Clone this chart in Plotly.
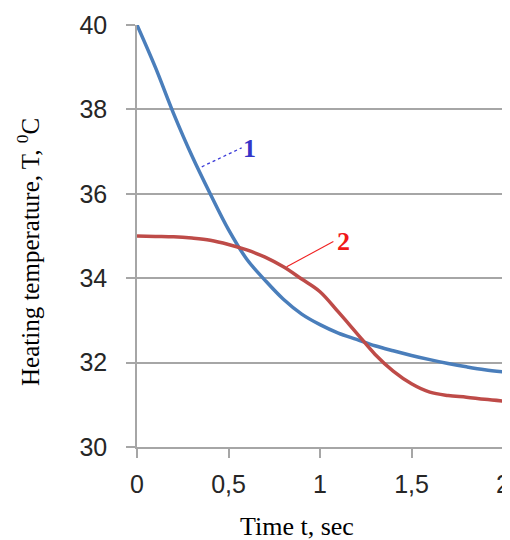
import plotly.graph_objects as go

t = [0, 0.1, 0.2, 0.3, 0.4, 0.5, 0.6, 0.7, 0.8, 0.9, 1.0, 1.1, 1.2, 1.3, 1.4, 1.5, 1.6, 1.7, 1.8, 1.9, 2.0]
curve1 = [40.0, 39.0, 37.9, 36.9, 36.0, 35.15, 34.45, 33.95, 33.5, 33.15, 32.9, 32.7, 32.55, 32.4, 32.28, 32.17, 32.07, 31.98, 31.9, 31.83, 31.78]
curve2 = [35.0, 34.99, 34.98, 34.95, 34.9, 34.8, 34.67, 34.5, 34.27, 33.98, 33.68, 33.2, 32.7, 32.2, 31.8, 31.5, 31.3, 31.22, 31.18, 31.13, 31.09]

x_ticks = [0, 0.5, 1, 1.5, 2]
x_tick_labels = ["0", "0,5", "1", "1,5", "2"]
y_ticks = [30, 32, 34, 36, 38, 40]

# curve labels: leader line (start on curve, end near label) and label position
label1_line_x, label1_line_y = [0.354, 0.572], [36.64, 37.09]
label1_pos = (0.617, 37.07)
label2_line_x, label2_line_y = [0.818, 1.073], [34.27, 34.87]
label2_pos = (1.128, 34.87)

fig = go.Figure()
fig.add_trace(go.Scatter(x=t, y=curve1, mode="lines", line=dict(color="#4A7EBB", width=3.5, shape="spline"), showlegend=False))
fig.add_trace(go.Scatter(x=t, y=curve2, mode="lines", line=dict(color="#BE4B48", width=3.5, shape="spline"), showlegend=False))

fig.add_trace(go.Scatter(x=label1_line_x, y=label1_line_y, mode="lines", line=dict(color="#3A3AD8", width=1.3, dash="dot"), showlegend=False))
fig.add_trace(go.Scatter(x=label2_line_x, y=label2_line_y, mode="lines", line=dict(color="#F02020", width=1.1), showlegend=False))

fig.add_annotation(x=label1_pos[0], y=label1_pos[1], text="<b>1</b>", showarrow=False,
                   font=dict(family="Liberation Serif", size=26, color="#3535C8"))
fig.add_annotation(x=label2_pos[0], y=label2_pos[1], text="<b>2</b>", showarrow=False,
                   font=dict(family="Liberation Serif", size=26, color="#F01818"))

OFF = 8  # page body margin
W, H = 510 - OFF, 540 - OFF
L, R, T, B = 137 - OFF, 7, 25 - OFF, 93
pw, ph = W - L - R, H - T - B

def px(xp):
    return (xp - OFF - L) / pw

def py(yp):
    return (H - B - (yp - OFF)) / ph

axis_common = dict(zeroline=False, showline=True, linecolor="#A6A6A6", linewidth=1.5, ticks="outside",
                   ticklen=9, tickcolor="#A6A6A6", tickwidth=1.5, automargin=False,
                   tickfont=dict(family="Liberation Sans", size=25, color="#262626"))

fig.update_layout(
    width=W, height=H,
    margin=dict(l=L, r=R, t=T, b=B),
    plot_bgcolor="white", paper_bgcolor="white",
    xaxis=dict(range=[0, 2], tickvals=x_ticks, ticktext=x_tick_labels, showgrid=False,
               ticklabelstandoff=5, **axis_common),
    yaxis=dict(range=[30, 40], tickvals=y_ticks, showgrid=True, gridcolor="#A6A6A6", gridwidth=1.5,
               ticklabelstandoff=14, **axis_common),
)

fig.add_annotation(x=px(28), y=py(252), xref="paper", yref="paper", xanchor="center", yanchor="middle",
                   text="Heating temperature, T, <sup>0</sup>C",
                   textangle=-90, showarrow=False, font=dict(family="Liberation Serif", size=25, color="black"))
fig.add_annotation(x=px(297), y=py(526), xref="paper", yref="paper", xanchor="center", yanchor="middle",
                   text="Time t, sec",
                   showarrow=False, font=dict(family="Liberation Serif", size=26, color="black"))

fig.write_html("out.html")
